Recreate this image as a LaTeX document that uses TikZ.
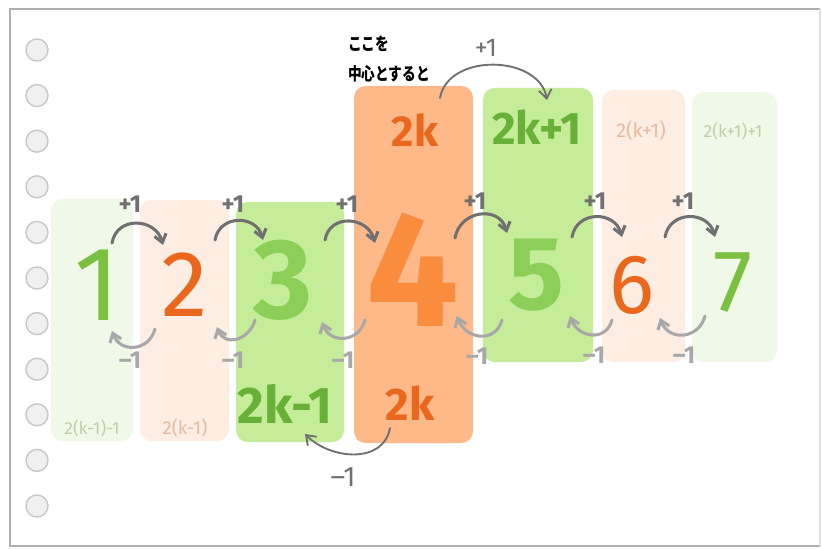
\documentclass[tikz,border=0pt]{standalone}
\usepackage{fontspec}
\setmainfont{Fira Sans}
\newfontfamily\thinfont{Fira Sans}
\newfontfamily\jpfont[FakeStretch=0.78]{Noto Sans CJK JP}
\usetikzlibrary{arrows.meta,positioning}
\definecolor{paperline}{RGB}{175,175,175}
\definecolor{holefill}{RGB}{240,240,240}
\definecolor{holeline}{RGB}{200,200,200}
\definecolor{cpale}{RGB}{240,249,231}
\definecolor{cpeach}{RGB}{253,237,227}
\definecolor{cgreen}{RGB}{197,237,153}
\definecolor{corange}{RGB}{255,184,136}
\definecolor{torange}{RGB}{234,104,30}
\definecolor{tbigorange}{RGB}{250,140,62}
\definecolor{tgreen}{RGB}{124,192,66}
\definecolor{tboldgreen}{RGB}{140,206,88}
\definecolor{tdgreen}{RGB}{104,176,56}
\definecolor{tpalegreen}{RGB}{190,208,170}
\definecolor{tpalepeach}{RGB}{232,186,160}
\definecolor{arrdark}{RGB}{112,112,112}
\definecolor{arrlight}{RGB}{168,168,168}
\tikzset{
  col/.style={rounded corners=10pt},
  hole/.style={fill=holefill, draw=holeline, line width=1.2pt},
  numthin/.style={inner sep=0pt, font=\thinfont\fontsize{#1}{#1}\selectfont},
  numbold/.style={inner sep=0pt, font=\bfseries\fontsize{#1}{#1}\selectfont},
  faint/.style={inner sep=0pt, font=\thinfont\fontsize{#1}{#1}\selectfont},
  steplab/.style={inner sep=0pt, font=\bfseries\fontsize{21}{21}\selectfont},
  uparr/.style={-{Straight Barb[length=2.4mm,width=3.6mm]}, arrdark, line width=2.6pt, line cap=round, looseness=1.4},
  dnarr/.style={-{Straight Barb[length=2.4mm,width=3.6mm]}, arrlight, line width=2.6pt, line cap=round, looseness=1.4},
  bigarr/.style={-{Straight Barb[length=2.6mm,width=3.8mm]}, arrdark, line width=1.6pt, line cap=round},
}
\begin{document}
\begin{tikzpicture}[x=0.3mm,y=-0.3mm]
\useasboundingbox (0,0) rectangle (822,549);
\fill[white] (0,0) rectangle (822,549);
\draw[paperline, line width=1.4pt] (820,9) -- (10,9) -- (10,546) -- (820,546);
\draw[paperline!40, line width=1pt] (820,9) -- (820,546);
\foreach \i in {0,...,10}
  \draw[hole] (37,{50+45.6*\i}) circle (11);

\fill[cpale, col] (51,199) rectangle (133,441);
\fill[cpeach, col] (140,200) rectangle (229,441);
\fill[cgreen, col] (236,202) rectangle (344,442);
\fill[corange, col] (354,86) rectangle (473,443);
\fill[cgreen, col] (483,88) rectangle (593,362);
\fill[cpeach, col] (602,90) rectangle (685,362);
\fill[cpale, col] (692,92) rectangle (777,362);

\node[numthin=90, text=tgreen] (n1) at (97,285) {1};
\node[numthin=80, text=torange] (n2) at (185,285) {2};
\node[numbold=97, text=tboldgreen] (n3) at (283,280) {3};
\node[numbold=140, text=tbigorange] (n4) at (413,270) {4};
\node[numbold=89, text=tboldgreen] (n5) at (536,275) {5};
\node[numthin=72, text=torange] (n6) at (632,285) {6};
\node[numthin=75, text=tgreen] (n7) at (733,283) {7};

\node[numbold=37, text=torange] (t2k) at (415,130) {2k};
\node[numbold=39, text=tdgreen] (t2k1) at (537,127) {2k+1};
\node[faint=17, text=tpalepeach] (t2kp) at (641,131) {2(k+1)};
\node[faint=15, text=tpalegreen] (t2kpp) at (733,131) {2(k+1)+1};
\node[faint=15, text=tpalegreen] (b2km) at (92,428) {2(k-1)-1};
\node[faint=16, text=tpalepeach] (b2kmm) at (185,428) {2(k-1)};
\node[numbold=44, text=tdgreen] (b2km1) at (285,404) {2k-1};
\node[numbold=39, text=torange] (b2k) at (410,403) {2k};

\node[anchor=west, align=left, inner sep=0pt, font=\jpfont\bfseries\fontsize{15}{25}\selectfont] (note) at (348,59) {ここを\\中心とすると};
\node[inner sep=0pt, font=\thinfont\fontsize{22}{22}\selectfont, text=arrdark] (ptop) at (486,48) {+1};
\node[inner sep=0pt, font=\thinfont\fontsize{24}{24}\selectfont, text=arrdark] (mbot) at (343,477) {–1};

\foreach \x/\y [count=\i] in {130/204, 233/204, 347/204, 475/201, 595/201, 683/201}
  \node[steplab, text=arrdark] (p\i) at (\x,\y) {+1};
\foreach \x/\y [count=\i] in {130/360, 233/360, 343/360, 477/356, 594/355, 684/355}
  \node[steplab, text=arrlight] (m\i) at (\x,\y) {–1};

\foreach \a/\b/\sx/\sy/\ex/\ey in {1/2/15/-42/-22/-40, 2/3/30/-45/-20/-40, 3/4/42/-40/-38/-27,
    4/5/42/-32/-29/-42, 5/6/36/-38/-10/-48, 6/7/33/-48/-18/-46}
  \draw[uparr] ([shift={(\sx,\sy)}]n\a.center) to[out=80,in=105] ([shift={(\ex,\ey)}]n\b.center);
\foreach \a/\b/\sx/\sy/\ex/\ey in {2/1/-30/44/15/46, 3/2/-28/40/32/42, 4/3/-48/50/39/42,
    5/4/-34/45/44/46, 6/5/-20/35/34/41, 7/6/-28/33/28/33}
  \draw[dnarr] ([shift={(\sx,\sy)}]n\a.center) to[out=-105,in=-70] ([shift={(\ex,\ey)}]n\b.center);

\draw[bigarr] ([shift={(25,-32)}]t2k.center) to[out=80,in=100,looseness=1.1] ([shift={(10,-27)}]t2k1.center);
\draw[bigarr] ([shift={(-20,25)}]b2k.center) to[out=-100,in=-45,looseness=1.1] ([shift={(20,30)}]b2km1.center);
\end{tikzpicture}
\end{document}
